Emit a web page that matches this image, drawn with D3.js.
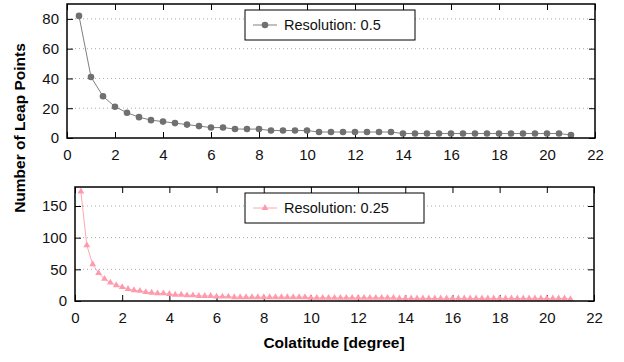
<!DOCTYPE html>
<html>
<head>
<meta charset="utf-8">
<script src="https://cdn.jsdelivr.net/npm/d3@7"></script>
<style>
body { margin: 0; background: #fff; }
svg { font-family: "Liberation Sans", Arial, sans-serif; }
.tick text { font-size: 15px; fill: #111; }
.grid line { stroke: #aaa; stroke-dasharray: 1,3; }
</style>
</head>
<body>
<div id="chart"></div>
<script>
'use strict';

// Resolution 0.5 series
var xHalf = [0.5, 1, 1.5, 2, 2.5, 3, 3.5, 4, 4.5, 5, 5.5, 6, 6.5, 7, 7.5, 8, 8.5, 9, 9.5, 10,
	10.5, 11, 11.5, 12, 12.5, 13, 13.5, 14, 14.5, 15, 15.5, 16, 16.5, 17, 17.5, 18, 18.5, 19, 19.5, 20, 20.5, 21];
var yHalf = [82, 41, 28, 21, 17, 14, 12, 11, 10, 9, 8, 7, 7, 6, 6, 6, 5, 5, 5, 5,
	4, 4, 4, 4, 4, 4, 4, 3, 3, 3, 3, 3, 3, 3, 3, 3, 3, 3, 3, 3, 3, 2];

// Resolution 0.25 series
var xQuarter = [0.25, 0.5, 0.75, 1, 1.25, 1.5, 1.75, 2, 2.25, 2.5, 2.75, 3, 3.25, 3.5, 3.75, 4,
	4.25, 4.5, 4.75, 5, 5.25, 5.5, 5.75, 6, 6.25, 6.5, 6.75, 7, 7.25, 7.5, 7.75, 8,
	8.25, 8.5, 8.75, 9, 9.25, 9.5, 9.75, 10, 10.25, 10.5, 10.75, 11, 11.25, 11.5, 11.75, 12,
	12.25, 12.5, 12.75, 13, 13.25, 13.5, 13.75, 14, 14.25, 14.5, 14.75, 15, 15.25, 15.5, 15.75, 16,
	16.25, 16.5, 16.75, 17, 17.25, 17.5, 17.75, 18, 18.25, 18.5, 18.75, 19, 19.25, 19.5, 19.75, 20,
	20.25, 20.5, 20.75, 21];
var yQuarter = [173, 88, 58, 44, 35, 29, 25, 22, 19, 17, 16, 14, 13, 12, 12, 11,
	10, 10, 9, 9, 8, 8, 8, 7, 7, 7, 6, 6, 6, 6, 6, 6,
	6, 6, 6, 6, 6, 6, 6, 5, 5, 5, 5, 5, 5, 5, 5, 5,
	5, 5, 5, 5, 5, 5, 4, 4, 4, 4, 4, 4, 4, 4, 4, 4,
	4, 4, 4, 4, 4, 4, 4, 4, 4, 4, 4, 4, 4, 4, 4, 4,
	4, 4, 4, 3];

var xTicks = [0, 2, 4, 6, 8, 10, 12, 14, 16, 18, 20, 22];
var yTicksTop = [0, 20, 40, 60, 80];
var yTicksBottom = [0, 50, 100, 150];

var svg = d3.select('#chart').append('svg')
	.attr('width', 624)
	.attr('height', 362);

function drawPanel(opts) {
	var x = d3.scaleLinear().domain([0, 22]).range([opts.left, opts.right]);
	var y = d3.scaleLinear().domain([0, opts.yMax]).range([opts.bottom, opts.top]);
	var g = svg.append('g');

	// Grid
	g.append('g').attr('class', 'grid')
		.selectAll('line')
		.data(opts.yTicks.filter(function(d) { return d > 0; }))
		.enter().append('line')
			.attr('x1', opts.left).attr('x2', opts.right)
			.attr('y1', function(d) { return y(d); })
			.attr('y2', function(d) { return y(d); });

	// Axes (inward ticks, mirrored)
	var ax = g.append('g')
		.attr('transform', 'translate(0,' + opts.bottom + ')')
		.call(d3.axisBottom(x).tickValues(xTicks).tickSize(-6).tickPadding(11).tickFormat(d3.format('d')));
	ax.select('.domain').remove();

	var axTop = g.append('g')
		.attr('transform', 'translate(0,' + opts.top + ')')
		.call(d3.axisTop(x).tickValues(xTicks).tickSize(-6).tickFormat(''));
	axTop.select('.domain').remove();

	var ay = g.append('g')
		.attr('transform', 'translate(' + opts.left + ',0)')
		.call(d3.axisLeft(y).tickValues(opts.yTicks).tickSize(-6).tickPadding(8));
	ay.select('.domain').remove();

	var ayR = g.append('g')
		.attr('transform', 'translate(' + opts.right + ',0)')
		.call(d3.axisRight(y).tickValues(opts.yTicks).tickSize(-6).tickFormat(''));
	ayR.select('.domain').remove();

	// Series
	var pts = opts.xs.map(function(d, i) { return [d, opts.ys[i]]; });
	g.append('path')
		.datum(pts)
		.attr('fill', 'none')
		.attr('stroke', opts.lineColor)
		.attr('stroke-width', 1)
		.attr('d', d3.line().x(function(d) { return x(d[0]); }).y(function(d) { return y(d[1]); }));

	var sym = d3.symbol().type(opts.symbol).size(opts.symbolSize);
	g.append('g').selectAll('path')
		.data(pts)
		.enter().append('path')
			.attr('transform', function(d) { return 'translate(' + x(d[0]) + ',' + y(d[1]) + ')'; })
			.attr('d', sym)
			.attr('fill', opts.markColor);

	// Frame
	g.append('rect')
		.attr('x', opts.left).attr('y', opts.top)
		.attr('width', opts.right - opts.left)
		.attr('height', opts.bottom - opts.top)
		.attr('fill', 'none')
		.attr('stroke', '#000')
		.attr('stroke-width', 1.5);

	// Legend
	var lg = g.append('g');
	lg.append('rect')
		.attr('x', opts.legend[0]).attr('y', opts.legend[1])
		.attr('width', opts.legend[2]).attr('height', 30)
		.attr('fill', '#fff').attr('stroke', '#000').attr('stroke-width', 1);
	var ly = opts.legend[1] + 15;
	lg.append('line')
		.attr('x1', opts.legend[0] + 8).attr('x2', opts.legend[0] + 32)
		.attr('y1', ly).attr('y2', ly)
		.attr('stroke', opts.lineColor);
	lg.append('path')
		.attr('transform', 'translate(' + (opts.legend[0] + 20) + ',' + ly + ')')
		.attr('d', sym)
		.attr('fill', opts.markColor);
	lg.append('text')
		.attr('x', opts.legend[0] + 39).attr('y', ly)
		.attr('dy', '0.35em')
		.style('font-size', '14.5px')
		.attr('fill', '#111')
		.text(opts.label);
}

drawPanel({
	left: 67, right: 595, top: 4, bottom: 138, yMax: 90,
	yTicks: yTicksTop, xs: xHalf, ys: yHalf,
	lineColor: '#808080', markColor: '#707070',
	symbol: d3.symbolCircle, symbolSize: 34,
	legend: [245, 10, 170], label: 'Resolution: 0.5'
});

drawPanel({
	left: 75, right: 594, top: 187, bottom: 301, yMax: 180,
	yTicks: yTicksBottom, xs: xQuarter, ys: yQuarter,
	lineColor: '#ffa6b6', markColor: '#ff9aac',
	symbol: d3.symbolTriangle, symbolSize: 20,
	legend: [245, 193, 179], label: 'Resolution: 0.25'
});

// Axis titles
svg.append('text')
	.attr('transform', 'translate(20,128) rotate(-90)')
	.attr('text-anchor', 'middle')
	.attr('dy', '0.35em')
	.style('font-size', '15.5px')
	.style('font-weight', 'bold')
	.text('Number of Leap Points');

svg.append('text')
	.attr('x', 334).attr('y', 343)
	.attr('text-anchor', 'middle')
	.attr('dy', '0.35em')
	.style('font-size', '15.5px')
	.style('font-weight', 'bold')
	.text('Colatitude [degree]');
</script>
</body>
</html>
